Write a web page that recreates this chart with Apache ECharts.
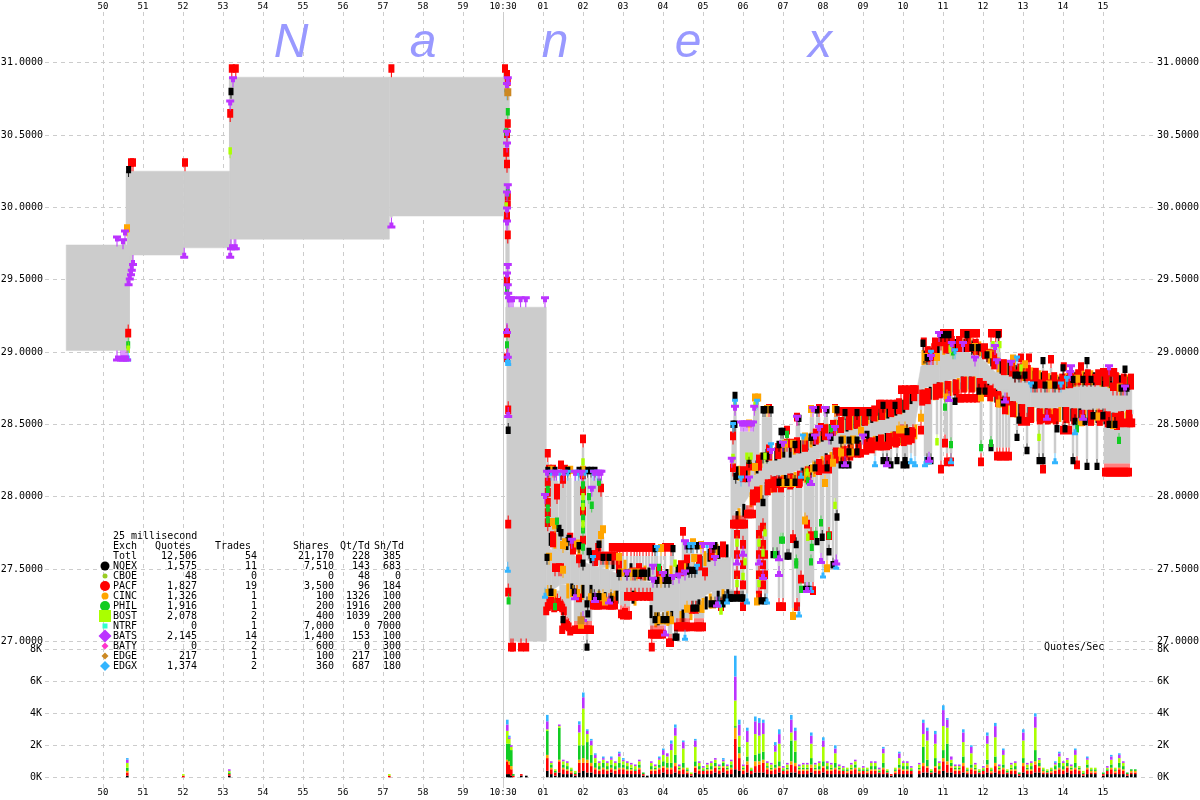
<!DOCTYPE html>
<html><head><meta charset="utf-8">
<style>html,body{margin:0;padding:0;background:#fff}#c{width:1200px;height:800px}</style>
<script src="https://cdn.jsdelivr.net/npm/echarts@6/dist/echarts.min.js"></script>
</head><body><div id="c"></div>
<script>
// ---- time is seconds relative to 10:30:00 ----
const bandT  =[-10.92,-9.4,-9.4,-7.98,-7.98,-6.83,-6.83,-2.84,-2.84,0.08,0.08,0.15,0.15,1.08,1.08,1.22,1.42,1.68,1.92,2.18,2.42,2.68,2.92,3.18,3.42,3.68,3.75,4.05,4.42,4.85,5.25,5.68,5.75,6,6.25,6.5,6.75,7.1,7.5,7.92,8.35,8.75,9.18,9.6,10,10.3,10.45,10.92,11.5,11.92,12.35,12.75,13.18,13.6,14,14.42,14.85,15.25,15.72];
const bandAsk=[29.74,29.74,30.25,30.25,30.25,30.25,30.9,30.9,30.9,30.9,30.9,30.9,29.31,29.31,27.66,27.63,27.63,27.62,27.56,27.53,27.51,27.49,27.46,27.44,27.42,27.41,27.4,27.4,27.44,27.48,27.56,27.58,28.11,28.1,28.11,28.22,28.25,28.27,28.31,28.37,28.44,28.46,28.51,28.54,28.58,28.67,28.9,28.97,29.01,28.97,28.85,28.83,28.79,28.76,28.74,28.77,28.77,28.75,28.74];
const bandBid=[29.01,29.01,29.67,29.67,29.72,29.72,29.78,29.78,29.94,29.94,29.31,29.31,27,27,27.3,27.35,27.39,27.4,27.39,27.39,27.35,27.34,27.35,27.35,27.34,27.28,27.19,27.21,27.21,27.28,27.35,27.36,27.89,27.94,28.05,28.08,28.14,28.15,28.2,28.27,28.34,28.37,28.41,28.44,28.46,28.5,28.74,28.79,28.83,28.82,28.74,28.65,28.62,28.61,28.62,28.61,28.6,28.58,28.6];

// ---- ask quotes by exchange: [time, price] ----
const askRed=[[-9.3,30.25],[-9.25,30.25],[-7.95,30.25],[-6.78,30.9],[-6.68,30.9],[-2.79,30.9],[-6.82,30.59],[.05,30.9],[.1,30.86],[.12,30.81],[.12,30.52],[.1,30.45],[.08,30.32],[.1,30.24],[.12,30.02],[.12,29.96],[.1,29.88],[.12,29.75],[.1,29.43],
[1.15,28.13],[1.25,28.13],[1.45,28.16],[1.55,28.13],[1.12,28.24],[2,28.34],[1.12,28.04],[1.12,27.97],[1.12,27.9],[1.12,27.83],[1.12,27.76],[1.35,28],[1.35,27.95],[1.5,28.06],[2,28.09],[2,27.98],[2,27.84],[2,27.64],[2.45,28],[1.68,27.66],[2.38,27.59],[1.9,27.51],
[2.45,27.53],[2.55,27.53],[2.6,27.53],[2.7,27.53],[2.75,27.53],[2.8,27.53],[1.3,27.45],[1.4,27.45],[1.45,27.45],
[2.72,27.59],[2.85,27.59],[2.92,27.59],[3,27.59],[3.1,27.59],[3.2,27.59],[3.28,27.59],[3.35,27.59],[3.42,27.59],[3.5,27.59],[3.58,27.59],[3.65,27.59],[3.73,27.59],[3.25,27.42],[4.05,27.59],[4.2,27.59],[4.5,27.7],[4.6,27.51],[5.05,27.42],[3.5,27.42],
[5.75,28.36],[5.75,28.14],[6.15,28.15],[6.65,28.55],[7.1,28.31],[7.2,28.31],[7.1,28.4],[7.35,28.49],[7.9,28.55],[7.95,28.42],[8.25,28.42],[8.3,28.55],
[8.4,28.53],[8.5,28.53],[8.6,28.53],[8.7,28.53],[8.8,28.53],[8.9,28.53],[9,28.53],[9.1,28.53],[9.2,28.53],[9.3,28.53],[9.4,28.58],[9.45,28.58],[9.55,28.58],[9.65,28.58],[9.75,28.58],[9.85,28.58],[9.95,28.68],[10.05,28.68],[10.15,28.68],[10.25,28.68],[10.32,28.68],
[10.52,29.01],[10.65,28.91],[10.75,28.91],[10.8,29.01],[10.95,29.01],[11,29.07],[11.1,29.07],[11.2,29.07],[11.5,29.07],[11.55,29.07],[11.65,29.07],[11.75,29.07],[11.85,29.07],[11.78,28.97],[11.9,28.97],[12.1,28.93],[12.25,28.93],[12.2,29.07],[12.32,29.07],[12.4,29.07],
[12.95,28.9],[13.15,28.9],[12.8,28.79],[12.95,28.79],[13.1,28.79],[13.25,28.72],[13.35,28.72],[13.45,28.72],[13.6,28.72],[13.75,28.72],[13.9,28.72],[13.7,28.89],[14.02,28.84],[14.45,28.84],[14.3,28.76],[14.4,28.76],[14.6,28.76],[14.8,28.76],[15,28.8],[15.1,28.8],[15.2,28.8],[15.28,28.8],[15.25,28.7],[15.35,28.7],[15.5,28.7]];
const askRedEdge=[[1.25,27.65],[1.75,27.6],[2.3,27.52],[2.9,27.47],[3.4,27.43],[3.9,27.41],[4.45,27.45],[4.9,27.49],[5.22,27.56],[5.5,27.58],[6,28.1],[6.4,28.18],[6.65,28.25],[6.88,28.26],[7.35,28.3],[7.55,28.31],[7.82,28.36],[8.05,28.39],[8.25,28.42],[8.45,28.44],[8.65,28.46],[8.85,28.47],[9.05,28.49],[9.28,28.52],[9.48,28.53],[9.7,28.55],[9.9,28.57],[10.08,28.6],[10.28,28.66],[10.62,28.93],[10.78,28.95],[11.08,28.99],[11.22,29],[11.4,29],[11.62,29],[11.82,28.98],[12.05,28.95],[12.28,28.88],[12.52,28.84],[12.72,28.83],[12.92,28.81],[13.12,28.8],[13.32,28.78],[13.55,28.76],[13.78,28.75],[13.98,28.74],[14.18,28.75],[14.38,28.77],[14.62,28.77],[14.88,28.77],[15.08,28.76],[15.32,28.75],[15.52,28.74],[15.7,28.74]];
const askBlack=[[-9.36,30.21],[-6.8,30.75],
[1.12,28.13],[1.3,28.13],[1.62,28.13],[1.9,28.13],[2.12,28.13],[2.2,28.13],[2.3,28.13],[1.4,27.73],[1.45,27.7],[1.65,27.66],[1.9,27.61],[2.4,27.62],[2.15,27.57],[2,27.49],[1.1,27.53],[2.5,27.53],[2.65,27.53],
[2.9,27.42],[3.1,27.42],[3.3,27.42],[3.45,27.42],[3.55,27.42],[3.8,27.59],[4.25,27.59],[3.85,27.37],[4.05,27.37],[4.15,27.37],[4.6,27.61],[4.7,27.61],[4.85,27.61],[5.25,27.61],[5.3,27.61],[4.65,27.44],[4.72,27.44],[4.8,27.44],
[5.8,28.65],[5.75,28.45],[5.8,28.45],[5.82,28.09],[6.5,28.55],[6.55,28.55],[6.7,28.55],[6.15,28.2],[6.5,28.23],[6.6,28.23],[6.95,28.4],[7,28.4],[6.9,28.31],[7.3,28.31],[7.4,28.49],[7.7,28.36],[7.85,28.55],[8.1,28.55],[8.2,28.36],[8.35,28.55],
[8.55,28.53],[8.85,28.53],[9.15,28.53],[9.5,28.58],[9.8,28.58],[8.45,28.34],[8.65,28.34],[8.85,28.34],[9.1,28.38],
[10.5,29.01],[10.6,28.91],[10.95,29.07],[11.05,29.07],[11.15,29.07],[11.6,29.07],[11.72,28.98],[11.88,28.98],[12.1,28.93],[12.38,29.07],[12.8,28.79],[12.9,28.79],[13.05,28.79],[13.3,28.72],[13.55,28.72],[13.8,28.72],[13.5,28.89],[14,28.84],[14.6,28.89],[14.25,28.76],[14.5,28.76],[14.7,28.76],[15.55,28.83],[15.45,28.7],[15.6,28.7]];
const askBlackEdge=[[1.18,27.66],[1.6,27.63],[2.2,27.54],[2.75,27.5],[3.2,27.45],[3.65,27.42],[4.1,27.41],[4.35,27.44],[4.62,27.46],[4.95,27.5],[5.15,27.55],[5.4,27.57],[5.6,27.58],[5.85,28.12],[6.08,28.1],[6.35,28.16],[6.6,28.24],[6.82,28.25],[7.02,28.27],[7.18,28.27],[7.42,28.3],[7.6,28.32],[7.78,28.35],[7.98,28.38],[8.18,28.41],[8.4,28.44],[8.6,28.45],[8.8,28.47],[9,28.49],[9.22,28.51],[9.42,28.53],[9.62,28.54],[9.82,28.56],[10.02,28.58],[10.2,28.64],[10.55,28.92],[10.72,28.94],[10.88,28.97],[11.12,28.99],[11.32,29],[11.55,29],[11.75,28.99],[12,28.96],[12.22,28.9],[12.45,28.85],[12.65,28.84],[12.85,28.82],[13.05,28.8],[13.28,28.78],[13.48,28.77],[13.72,28.75],[13.92,28.74],[14.12,28.75],[14.32,28.77],[14.55,28.77],[14.78,28.77],[15,28.76],[15.2,28.75],[15.42,28.75],[15.65,28.74]];
const askOrange=[[-9.4,29.8],
[1.2,28.13],[1.68,28.13],[2,28.13],[1.25,27.77],[1.3,27.75],[1.5,27.61],[1.55,27.63],[1.85,27.62],[2.45,27.68],[2.5,27.72],[2.9,27.53],[1.15,27.53],[1.5,27.44],
[2.95,27.42],[3.2,27.42],[3.35,27.42],[3.95,27.59],[3.95,27.37],[4.75,27.63],[4.95,27.61],[4.78,27.52],
[6.3,28.63],[6.38,28.63],[6.15,28.45],[6.6,28.55],[6.3,28.15],[7.05,28.31],[7.25,28.31],[7.55,28.36],[7.7,28.55],[8.3,28.55],[8.5,28.34],[8.75,28.34],[8.95,28.4],
[10.55,28.91],[10.85,28.91],[11.8,28.98],[12.15,28.93],[12.75,28.9],[13.05,28.86],[13.65,28.72],[14.35,28.76],[15.42,28.7]];
const askOrangeEdge=[[1.3,27.64],[1.9,27.57],[2.6,27.5],[3.05,27.46],[3.55,27.42],[4.2,27.42],[4.55,27.46],[5.05,27.52],[5.35,27.57],[5.9,28.11],[6.15,28.1],[6.45,28.2],[6.7,28.25],[6.95,28.27],[7.28,28.29],[7.5,28.31],[7.7,28.34],[7.9,28.37],[8.1,28.4],[8.32,28.43],[8.5,28.45],[8.72,28.46],[8.92,28.48],[9.12,28.5],[9.35,28.52],[9.55,28.54],[9.75,28.55],[9.95,28.57],[10.12,28.62],[10.5,28.91],[10.65,28.93],[10.82,28.95],[11.02,28.98],[11.25,28.99],[11.45,29],[11.68,29],[11.92,28.97],[12.15,28.92],[12.38,28.86],[12.58,28.84],[12.78,28.83],[13,28.8],[13.22,28.79],[13.42,28.77],[13.65,28.75],[13.85,28.74],[14.08,28.75],[14.28,28.76],[14.5,28.77],[14.72,28.77],[14.95,28.76],[15.15,28.75],[15.38,28.75],[15.6,28.74]];
const askGreen=[[.12,30.61],[.08,30.47],[.12,30.05],[.1,29.38],[1.12,28],[1.12,27.87],[1.12,27.79],[1.35,27.78],[2,28.03],[2,27.9],[2,27.8],[2,27.72],[2,27.6],[2.15,27.95],[2.22,27.89],[2.4,28.05],[3.9,27.46],[7.1,28.38],[8.2,28.42],[11.2,29],[11.25,28.95]];
const askLime=[[-6.82,30.34],[.08,29.96],[2,28.19],[2,27.95],[2,27.88],[2,27.76],[4.3,27.49],[5.8,28.58],[5.75,28.22],[6.1,28.23],[6.2,28.23],[6.3,28.58],[6.55,28.23],[11.18,28.97],[12.25,29],[12.42,29],[12.95,28.84]];
const askBlue=[[.1,30.74],[1.2,28.11],[1.42,28.11],[1.62,28.11],[1.82,28.11],[1.88,28.11],[2.05,28.11],[2.25,28.11],[2.35,28.11],[2.25,27.52],[3.85,27.59],[4.65,27.61],[4.75,27.61],[5.1,27.61],[4.85,27.46],[5.8,28.6],[5.75,28.44],[5.95,28.07],[6.35,28.6],[6.7,28.3],[7.5,28.36],[7.9,28.42],[12.85,28.9],[13.2,28.72],[13.95,28.72],[10.7,28.94],[11.3,28.95],[14.1,28.76]];
const askPurple=[[-9.45,29.77],[-9.65,29.73],[-9.5,29.71],[-6.75,30.83],[-6.82,30.67],[.12,30.83],[.1,30.79],[.1,30.46],[.1,30.38],[.12,30.09],[.1,30.04],[.1,29.93],[.1,29.84],[.12,29.54],[.1,29.48],[.12,29.4],[.13,29.34],[.15,29.31],[.2,29.31],[.25,29.31],[.44,29.31],[.57,29.31],[1.05,29.31],
[1.1,28.11],[1.28,28.11],[1.34,28.11],[1.52,28.11],[1.8,28.11],[1.96,28.11],[2.28,28.11],[2.38,28.11],[2.42,28.11],[2.46,28.11],[1.05,27.95],[1.72,27.64],[2.22,28],[3.1,27.42],[3.75,27.46],[4,27.41],[3.75,27.37],[4.25,27.39],[4.55,27.63],[5.3,27.52],[4.4,27.4],[4.55,27.42],[5,27.61],[5.2,27.61],
[5.8,28.56],[5.72,28.2],[5.95,28.45],[6,28.45],[6.05,28.45],[6.1,28.45],[6.2,28.45],[6.25,28.45],[6.28,28.56],[6.15,28.07],[6.7,28.26],[7,28.31],[7.35,28.49],[7.8,28.36],[7.75,28.55],[8.05,28.55],[7.9,28.42],[8.3,28.42],[8.15,28.36],[9,28.36],
[10.9,29.07],[10.7,28.91],[11.22,29],[11.5,29],[11.8,28.9],[12.3,28.98],[12.35,28.88],[12.7,28.87],[14.2,28.84],[14.18,28.8],[15.15,28.84],[15.55,28.7]];
const askBrown=[[.12,30.74]];

// ---- bid quotes by exchange: [time, price] ----
const bidRed=[[.1,29.19],[.1,29.02],[.13,28.66],[.13,27.87],[.13,27.4],[.2,27.02],[.25,27.02],[.45,27.02],[.58,27.02],[-9.37,29.19],
[1.08,27.27],[1.12,27.3],[1.16,27.33],[1.2,27.35],[1.24,27.31],[1.28,27.29],[1.32,27.31],[1.36,27.33],[1.4,27.3],[1.44,27.31],[1.48,27.29],[1.52,27.27],
[1.48,27.14],[1.52,27.17],[1.56,27.18],[1.6,27.17],[1.64,27.16],[1.68,27.13],[1.8,27.14],[1.85,27.14],[1.9,27.14],[2,27.14],[2.05,27.14],[2.1,27.14],[2.15,27.14],[2.2,27.14],[1.85,27.39],[1.9,27.36],
[2.25,27.31],[2.3,27.31],[2.35,27.31],[2.4,27.31],[2.45,27.31],[2.6,27.31],[2.65,27.31],[2.7,27.31],[2.75,27.31],[2.8,27.31],[2.95,27.25],[3,27.24],[3.05,27.26],[3.1,27.24],[3.15,27.24],
[3.1,27.37],[3.2,27.37],[3.3,27.37],[3.4,27.37],[3.5,27.37],[3.6,27.37],[3.68,27.37],[3.7,27.11],[3.75,27.11],[3.8,27.11],[3.85,27.11],[3.9,27.11],[3.95,27.11],[4,27.11],[3.72,27.02],[4.15,27.05],[4.2,27.05],
[4.35,27.16],[4.4,27.16],[4.45,27.16],[4.5,27.16],[4.55,27.16],[4.6,27.16],[4.65,27.16],[4.8,27.16],[4.85,27.16],[4.9,27.16],[4.95,27.16],[5,27.16],[4.72,27.28],[4.82,27.28],[5.45,27.3],
[5.75,27.87],[5.8,27.87],[5.85,27.87],[5.9,27.87],[5.95,27.87],[6,27.87],[6.05,27.87],[6.1,27.94],[6.15,27.94],[6.2,27.94],[6.25,27.94],
[5.85,27.8],[5.85,27.66],[5.85,27.52],[5.85,27.38],[6,27.73],[6,27.59],[6,27.45],[6,27.3],[6.4,27.8],[6.4,27.66],[6.4,27.52],[6.4,27.38],[6.5,27.85],[6.5,27.73],[6.5,27.59],[6.5,27.45],[6.55,27.66],[6.55,27.52],
[6.9,27.3],[7,27.3],[7.35,27.3],[7.25,27.77],[7.45,27.49],[7.6,27.87],[7.7,27.79],[8.15,27.79],[7.75,27.41],
[6.7,28.15],[6.85,28.15],[7,28.15],[7.2,28.15],[7.4,28.15],[7.85,28.25],[8,28.25],[8.15,28.25],[8.55,28.36],[8.75,28.36],[8.95,28.36],[9.2,28.41],[9.3,28.41],[9.4,28.41],[9.5,28.41],[9.6,28.41],[9.75,28.44],[9.85,28.44],[10,28.5],[10.1,28.5],[10.25,28.5],[10.45,28.52],[9.95,28.5],
[11.05,28.43],[11.1,28.3],[11.2,28.3],[10.95,28.25],[11.4,28.74],[11.45,28.74],[11.55,28.74],[11.65,28.74],[11.75,28.74],[11.85,28.74],[12.1,28.78],[12.25,28.78],[11.95,28.3],
[12.35,28.34],[12.42,28.34],[12.5,28.34],[12.58,28.34],[12.65,28.34],[12.45,28.72],[12.6,28.72],[12.95,28.58],[13.1,28.58],[13.45,28.6],[13.55,28.6],[13.65,28.6],[13.7,28.6],[13.5,28.25],[14,28.52],[14.15,28.52],[14.35,28.28],
[14.9,28.61],[15.05,28.61],[15.05,28.23],[15.1,28.23],[15.15,28.23],[15.2,28.23],[15.25,28.23],[15.3,28.23],[15.35,28.23],[15.4,28.23],[15.45,28.23],[15.5,28.23],[15.55,28.23],[15.6,28.23],[15.65,28.23],[15.35,28.55],[15.6,28.57],[15.68,28.57],[15.73,28.57]];
const bidRedEdge=[[6.25,28.05],[6.35,28.07],[6.62,28.12],[6.78,28.14],[6.95,28.14],[7.18,28.16],[7.42,28.18],[7.62,28.21],[7.9,28.26],[8.12,28.29],[8.32,28.34],[8.52,28.35],[8.68,28.36],[8.88,28.38],[9.08,28.4],[9.22,28.41],[9.45,28.43],[9.65,28.44],[9.82,28.45],[10.02,28.46],[10.15,28.47],[10.22,28.48],[10.48,28.74],[10.62,28.75],[10.82,28.78],[10.92,28.79],[11.12,28.8],[11.32,28.81],[11.52,28.83],[11.72,28.83],[11.92,28.82],[12.02,28.8],[12.18,28.77],[12.38,28.73],[12.55,28.68],[12.75,28.66],[12.98,28.64],[13.2,28.62],[13.42,28.61],[13.62,28.61],[13.82,28.61],[14.08,28.62],[14.28,28.61],[14.48,28.6],[14.7,28.6],[14.92,28.6],[15.12,28.59],[15.3,28.58],[15.45,28.59],[15.65,28.6]];
const bidBlack=[[.13,28.51],[1.2,27.39],[1.5,27.2],[1.78,27.39],[2.1,27.31],[2.12,27.24],[2.1,27.01],[2.28,27.36],[2.4,27.36],[2.7,27.34],[3.8,27.2],[4,27.2],[4.1,27.2],[4.3,27.08],[4.35,27.08],[4.75,27.28],[4.85,27.28],[5.2,27.31],[5.3,27.31],[5.45,27.31],[5.5,27.31],[5.55,27.35],[5.65,27.35],
[5.85,27.35],[5.95,27.35],[6,27.35],[5.7,27.35],[5.75,27.35],[6.45,27.33],[6.55,27.33],[6.5,28.01],[6.75,27.65],[6.85,27.65],[7.1,27.64],[7.15,27.64],[7.33,27.72],[7.85,27.74],[7.98,27.77],[8.15,27.67],[8.25,27.58],[8.35,27.91],[7.55,27.41],[7.65,27.41],
[6.9,28.15],[7.1,28.15],[7.3,28.15],[7.8,28.25],[8.1,28.25],[8.45,28.27],[8.55,28.27],[8.65,28.27],[8.65,28.36],[8.85,28.36],[9.7,28.27],[10,28.27],[10.1,28.27],[9.5,28.3],[9.6,28.3],[9.85,28.3],[10.05,28.3],[10.1,28.5],
[10.6,28.3],[10.7,28.3],[11.3,28.71],[11.9,28.78],[12.05,28.78],[12.2,28.39],[12.5,28.7],[12.85,28.46],[13.1,28.37],[12.9,28.58],[13.4,28.3],[13.5,28.3],[13.85,28.52],[14.05,28.52],[14.25,28.3],[14.6,28.26],[14.85,28.26],[14.3,28.57],[14.55,28.57],[14.75,28.61],[15,28.61],[15.15,28.55],[15.3,28.55]];
const bidBlackEdge=[[1.18,27.33],[1.72,27.4],[2,27.39],[2.2,27.39],[2.55,27.34],[2.85,27.35],[3.25,27.35],[3.7,27.25],[3.88,27.2],[4.22,27.21],[4.5,27.22],[4.9,27.29],[5.08,27.31],[5.38,27.35],[5.62,27.36],[5.85,27.9],[6.02,27.95],[6.3,28.05],[6.58,28.1],[6.8,28.14],[7.05,28.15],[7.22,28.16],[7.48,28.2],[7.68,28.22],[7.88,28.26],[8.08,28.3],[8.28,28.33],[8.5,28.35],[8.72,28.37],[8.92,28.39],[9.12,28.41],[9.35,28.42],[9.58,28.44],[9.78,28.45],[9.98,28.46],[10.18,28.48],[10.5,28.74],[10.68,28.76],[10.88,28.79],[11.08,28.8],[11.28,28.81],[11.48,28.83],[11.68,28.83],[11.88,28.82],[12.12,28.78],[12.32,28.74],[12.52,28.69],[12.72,28.66],[12.92,28.64],[13.15,28.62],[13.38,28.61],[13.58,28.61],[13.8,28.61],[14.02,28.62],[14.22,28.61],[14.42,28.61],[14.65,28.6],[14.85,28.6],[15.05,28.59],[15.25,28.58],[15.48,28.59],[15.68,28.6]];
const bidOrange=[[1.12,27.39],[1.2,27.39],[1.75,27.39],[1.85,27.39],[1.95,27.17],[2.2,27.36],[2.5,27.36],[2.7,27.36],[2.55,27.33],[3.9,27.2],[4,27.2],[4.1,27.2],[4.2,27.2],[4.6,27.28],[4.95,27.28],[5.25,27.31],[6.35,27.33],[7.25,27.23],[7.55,27.89],[8.1,27.56],[7,28.15],[7.15,28.15],[7.25,28.15],[7.6,28.2],[7.75,28.25],[8.05,28.15],[8.25,28.29],[8.45,28.36],[8.7,28.36],[9.9,28.52],[10.05,28.52],[10.45,28.6],[11.1,28.74],[11.95,28.74],[12.4,28.7],[14.45,28.57],[14.85,28.61],[15.25,28.55]];
const bidOrangeEdge=[[1.3,27.36],[1.62,27.4],[1.98,27.39],[2.4,27.35],[2.8,27.35],[3.3,27.35],[3.82,27.2],[4.12,27.21],[4.45,27.21],[4.7,27.25],[5,27.3],[5.18,27.33],[5.5,27.36],[5.9,27.92],[6.2,28.03],[6.45,28.08],[6.72,28.13],[6.98,28.15],[7.3,28.17],[7.55,28.2],[7.78,28.24],[7.98,28.28],[8.2,28.31],[8.42,28.34],[8.65,28.36],[8.85,28.38],[9.05,28.4],[9.28,28.42],[9.5,28.43],[9.72,28.45],[9.92,28.46],[10.12,28.47],[10.32,28.5],[10.58,28.75],[10.78,28.77],[10.98,28.79],[11.18,28.8],[11.38,28.82],[11.58,28.83],[11.78,28.83],[12,28.8],[12.22,28.76],[12.42,28.72],[12.62,28.67],[12.82,28.65],[13.02,28.63],[13.25,28.62],[13.48,28.61],[13.72,28.61],[13.92,28.62],[14.12,28.61],[14.32,28.61],[14.55,28.6],[14.75,28.6],[14.95,28.6],[15.15,28.58],[15.38,28.58],[15.58,28.59]];
const bidGreen=[[.1,29.1],[.14,27.33],[-9.37,29.1],[1.3,27.29],[6.8,27.65],[6.95,27.75],[7,27.75],[7.33,27.6],[7.33,27.58],[7.45,27.41],[7.72,27.7],[7.7,27.6],[7.82,27.79],[7.95,27.87],[8.15,27.78],[7.62,28.16],[11.05,28.67],[11.2,28.41],[11.95,28.39],[12.2,28.42],[14.35,28.52],[15.4,28.44]];
const bidLime=[[-9.37,29.07],[5.45,27.26],[6.05,27.6],[6,27.5],[5.85,27.73],[5.85,27.45],[6.4,27.73],[6.4,27.45],[6.5,27.66],[6.55,27.8],[7.62,27.77],[8.3,27.99],[7.6,28.22],[10.85,28.43],[13.4,28.46]];
const bidBlue=[[-9.37,29.01],[.12,29],[.13,28.98],[.12,27.55],[1.05,27.37],[4.55,27.08],[5.4,27.31],[5.6,27.33],[6.1,27.33],[6.6,27.33],[7.4,27.24],[7.45,28.2],[7.7,27.41],[8,27.51],[8.33,27.57],[9.3,28.28],[10.3,28.28],[10.55,28.28],[10.2,28.3],[10.65,28.3],[11.2,28.3],[13.8,28.3],[14.3,28.5]];
const bidPurple=[[-9.65,29.01],[-9.55,29.01],[-9.5,29.01],[-9.45,29.01],[-9.4,29.01],[-9.25,29.67],[-9.28,29.63],[-9.3,29.6],[-9.33,29.57],[-9.36,29.53],[-7.97,29.72],[-6.8,29.78],[-6.72,29.78],[-6.68,29.78],[-6.82,29.72],[-2.79,29.93],[.1,29.2],[.12,29.03],[.13,28.62],[1.8,27.36],[2,27.21],[2.3,27.34],[2.65,27.33],[4.05,27.11],[5.35,27.31],[5.85,27.6],[6,27.66],[6.4,27.6],[6.5,27.5],[6.9,27.52],[6.9,27.63],[7.6,27.41],[7.95,27.61],[8.33,27.6],[7.7,28.15],[8.55,28.28],[9.6,28.28],[10.65,28.31],[11.15,28.73],[12.55,28.72],[13.6,28.6],[14.5,28.6]];
const bidBrown=[[1.95,27.2]];

// ---- quotes per second, in hundreds, by exchange; time column first ----
const volT=[-9.4,-8,-6.85,-2.85,.1,.15,.2,.25,.45,.58,
1.1,1.2,1.3,1.4,1.5,1.6,1.7,1.8,1.9,2,2.1,2.2,2.3,2.4,2.5,2.6,2.7,2.8,2.9,3,3.1,3.2,3.3,3.4,3.5,3.6,3.7,3.8,3.9,4,4.1,4.2,4.3,4.4,4.5,4.6,4.7,4.8,4.9,5,5.1,5.2,5.3,5.4,5.5,5.6,5.7,5.8,5.9,6,6.1,6.2,6.3,6.4,6.5,6.6,6.7,6.8,6.9,7,7.1,7.2,7.3,7.4,7.5,7.6,7.7,7.8,7.9,8,8.1,8.2,8.3,8.4,8.5,8.6,8.7,8.8,8.9,9,9.1,9.2,9.3,9.4,9.5,9.6,9.7,9.8,9.9,10,10.1,10.2,10.3,10.4,10.5,10.6,10.7,10.8,10.9,11,11.1,11.2,11.3,11.4,11.5,11.6,11.7,11.8,11.9,12,12.1,12.2,12.3,12.4,12.5,12.6,12.7,12.8,12.9,13,13.1,13.2,13.3,13.4,13.5,13.6,13.7,13.8,13.9,14,14.1,14.2,14.3,14.4,14.5,14.6,14.7,14.8,14.9,15,15.1,15.2,15.3,15.4,15.5,15.6,15.7,15.8];
const volBlack=[1,0,1,0,2,2,1,0,1,1, 4,2,1,3,2,2,2,1,3,4, 3,3,2,2,2,2,3,2,2,2, 2,2,2,2,1,1,2,2,2,3, 2,2,3,2,2,2,1,3,2,2, 2,2,3,2,3,2,2,5,4,2, 3,2,3,3,3,2,2,2,3,2, 2,3,3,2,2,2,3,2,2,3, 2,2,2,2,2,2,2,2,2,2, 2,2,2,2,2,2,1,2,2,2, 2,2,0,2,3,3,2,3,2,4, 3,3,2,2,3,2,2,2,2,2, 3,2,3,2,2,2,2,2,1,3, 2,2,3,3,2,2,2,2,2,2, 3,2,2,2,1,2,2,2,0,1, 2,2,2,2,2,1,2,2];
const volRed=[2,1,1,1,8,6,4,1,1,0, 8,3,2,7,3,2,1,1,6,5, 6,4,3,2,3,2,2,2,3,3, 2,2,2,3,1,0,2,2,3,3, 3,3,4,2,3,1,1,3,2,2, 2,2,3,2,3,2,3,19,8,2, 5,2,4,5,6,3,2,3,3,2, 2,5,4,2,2,2,3,2,2,3, 2,2,3,2,2,1,2,3,1,2, 1,2,2,1,3,1,1,1,3,2, 2,2,0,2,4,3,1,3,2,6, 5,3,2,2,4,1,3,2,1,2, 3,1,4,2,3,1,2,2,1,4, 2,2,5,3,1,1,1,2,3,2, 3,2,3,2,1,3,1,1,0,1, 2,3,1,3,2,1,1,1];
const volOrange=[1,0,0,0,1,2,2,0,0,0, 2,1,0,1,1,1,1,0,2,3, 2,2,1,1,1,1,1,1,1,1, 1,1,0,1,0,0,1,1,1,1, 1,1,2,1,1,1,0,1,1,0, 1,1,1,1,1,1,1,7,3,1, 2,0,3,2,2,1,1,1,1,0, 1,2,2,1,1,1,2,1,1,1, 1,1,1,1,0,1,1,1,1,0, 1,1,1,0,1,0,0,1,1,1, 1,0,0,1,2,1,0,1,1,2, 2,1,1,1,2,1,1,1,0,0, 2,1,2,1,1,0,1,1,0,2, 1,1,2,1,1,0,1,1,1,1, 1,1,1,1,0,1,1,1,0,0, 0,1,1,1,1,0,1,1];
const volGreen=[2,0,1,0,10,11,10,1,0,0, 15,2,1,20,2,2,1,1,9,8, 11,5,3,2,3,2,2,2,3,2, 2,1,1,2,1,0,2,1,2,3, 3,3,5,1,3,1,0,3,2,1, 1,2,2,1,2,1,2,1,4,1, 3,1,4,5,5,1,1,2,3,1, 1,13,7,1,1,1,4,1,2,3, 2,1,3,1,1,1,1,2,1,1, 1,2,2,1,3,1,0,1,2,2, 2,1,0,1,10,4,1,5,2,5, 11,2,1,1,4,1,2,1,1,1, 3,1,4,1,2,1,1,2,1,3, 1,2,7,2,1,1,1,2,3,2, 2,1,3,1,1,2,1,1,0,1, 1,2,1,3,2,1,1,1];
const volLime=[3,1,1,1,8,3,2,0,0,0, 1,1,1,1,2,2,1,1,8,23, 5,6,3,2,2,2,3,2,4,2, 2,2,2,2,0,0,2,1,3,4, 4,8,12,1,9,1,1,9,2,1, 2,2,2,1,1,1,2,16,7,1, 9,1,13,11,11,2,2,8,11,1, 2,5,7,1,2,2,9,2,2,9, 2,2,6,1,1,1,2,2,1,1, 1,2,2,1,6,1,0,1,4,2, 2,1,0,2,8,12,1,9,2,15, 10,2,1,1,9,1,7,2,1,1, 10,1,12,1,6,1,2,2,0,11, 2,2,14,2,1,1,1,1,4,2, 2,1,5,1,1,3,1,1,0,0, 1,3,1,3,2,0,0,0];
const volPurple=[2,0,1,0,4,1,1,0,0,0, 5,1,0,1,1,1,0,0,5,7, 2,3,2,1,1,1,1,1,2,1, 1,1,1,1,0,0,1,1,1,3, 2,4,5,1,4,0,0,4,1,1, 1,1,1,1,1,1,1,15,7,1, 7,0,8,8,7,1,1,4,6,1, 1,8,6,1,1,1,5,1,1,4, 1,1,3,1,1,0,1,1,0,1, 0,1,1,1,3,0,0,0,3,1, 1,1,0,1,7,6,0,6,1,10, 5,2,1,1,6,0,4,1,0,1, 5,0,7,1,3,0,1,1,0,5, 1,1,7,1,0,0,0,1,2,1, 1,1,3,0,0,1,0,0,0,0, 1,2,0,2,1,0,0,0];
const volBlue=[1,0,0,0,3,1,0,0,0,0, 4,0,0,0,0,0,0,0,2,3, 1,1,1,0,1,0,1,0,1,1, 0,0,0,0,0,0,0,0,1,1, 0,2,2,0,1,0,0,1,0,0, 0,0,0,0,1,0,0,13,3,0, 2,0,3,3,2,0,0,2,3,0, 0,3,2,0,0,0,2,0,0,2, 0,0,2,0,0,0,0,0,0,0, 0,0,0,0,1,0,0,0,1,0, 0,0,0,0,2,2,0,2,0,3, 1,0,0,0,2,0,1,0,0,0, 2,0,2,0,1,0,0,0,0,2, 0,0,2,0,0,0,0,1,1,0, 0,0,1,0,0,1,0,0,0,0, 0,1,0,1,0,0,0,0];

// ---- axis ticks ----
const secondTicks=[-10,-9,-8,-7,-6,-5,-4,-3,-2,-1,0,1,2,3,4,5,6,7,8,9,10,11,12,13,14,15];
const priceTicks=[27,27.5,28,28.5,29,29.5,30,30.5,31];
const rateTicks=[0,2000,4000,6000,8000];

// ---- summary table ----
const tableTitle='25 millisecond';
const exchNames =['Totl','NQEX','CBOE','PACF','CINC','PHIL','BOST','NTRF','BATS','BATY','EDGE','EDGX'];
const exchQuotes=['12,506','1,575','48','1,827','1,326','1,916','2,078','0','2,145','0','217','1,374'];
const exchTrades=['54','11','0','19','1','1','2','1','14','2','1','2'];
const exchShares=['21,170','7,510','0','3,500','100','200','400','7,000','1,400','600','100','360'];
const exchQtTd  =['228','143','48','96','1326','1916','1039','0','153','0','217','687'];
const exchShTd  =['385','683','0','184','100','200','200','7000','100','300','100','180'];
const brand=['N','a','n','e','x'];

const C={black:'#000000',red:'#ff0000',orange:'#ffa500',green:'#11cc22',lime:'#aaff00',blue:'#33b5ff',purple:'#bb33ff',brown:'#cc8822',grey:'#cccccc'};
const mono='"DejaVu Sans Mono","Liberation Mono",monospace';

const chart=echarts.init(document.getElementById('c'),null,{renderer:'canvas'});

function bandIndex(t){let k=0;for(let i=0;i<bandT.length;i++){if(bandT[i]<=t)k=i;}return k;}
const askSets=[askRed,askRedEdge,askBlack,askBlackEdge,askOrange,askOrangeEdge,askGreen,askLime,askBlue,askPurple,askBrown];
const bidSets=[bidRed,bidRedEdge,bidBlack,bidBlackEdge,bidOrange,bidOrangeEdge,bidGreen,bidLime,bidBlue,bidPurple,bidBrown];
const spikeData=[];
askSets.forEach(s=>s.forEach(d=>{const k=bandIndex(d[0]);spikeData.push([d[0],d[1],bandAsk[k]]);}));
bidSets.forEach(s=>s.forEach(d=>{const k=bandIndex(d[0]);spikeData.push([d[0],d[1],bandBid[k]]);}));

const bandRows=[];
for(let i=0;i<bandT.length-1;i++){if(bandT[i+1]>bandT[i])bandRows.push([bandT[i],bandT[i+1],bandAsk[i],bandAsk[i+1],bandBid[i],bandBid[i+1]]);}

const bl={ask:'path://M0 0H6V8H3.5V12H2.5V8H0Z',bid:'path://M2.5 0H3.5V4H6V12H0V4H2.5Z'};
const st={ask:'path://M0 0H4V18H0Z',bid:'path://M0 0H4V18H0Z'};
const ta={ask:'path://M0 0H8V3H6V6H4.5V11H3.5V6H2V3H0Z',bid:'path://M3.5 0H4.5V5H6V8H8V11H0V8H2V5H3.5Z'};
function quotes(name,data,side,shape,w,h,color){
  return {name,type:'scatter',xAxisIndex:0,yAxisIndex:0,data,symbol:shape[side],symbolSize:[w,h],
    symbolOffset:[0,side==='ask'?-h/2:h/2],itemStyle:{color,opacity:1},silent:true,z:5,animation:false,large:false,progressive:0};
}
const running=volT.map(()=>0);
function bars(name,arr,color){
  const rows=volT.map((t,i)=>{const lo=running[i];running[i]+=arr[i]*100;return [t,lo,running[i]];});
  return {name,type:'custom',xAxisIndex:1,yAxisIndex:2,silent:true,animation:false,z:4,data:rows,encode:{x:0,y:[1,2]},
    renderItem:(p,api)=>{
      const a=api.coord([api.value(0),api.value(1)]),b=api.coord([api.value(0),api.value(2)]);
      if(Math.abs(a[1]-b[1])<0.01)return null;
      return {type:'rect',shape:{x:Math.round(a[0])-1,y:b[1],width:2.6,height:a[1]-b[1]},style:{fill:color}};
    }};
}
const vline={silent:true,symbol:'none',animation:false,label:{show:false},lineStyle:{color:C.grey,type:'solid',width:1},data:[{xAxis:0}]};

const xBase={type:'value',min:-11.45,max:16.3,axisLine:{show:false},
  axisTick:{show:false,customValues:secondTicks},
  splitLine:{show:true,lineStyle:{color:C.grey,type:[4,4],width:1}}};
const xFmt=v=>v===0?'10:30':(v<0?String(60+v):String(v).padStart(2,'0'));
const yBaseLine={show:true,lineStyle:{color:C.grey,type:[4,4],width:1}};

const yMinP=26.9537,yMaxP=31.3505,yMinV=-669,yMaxV=8081;

const option={
  animation:false,backgroundColor:'#fff',
  grid:[{left:45,right:45,top:12,height:636,outerBoundsMode:'none'},{left:45,right:45,top:648,height:140,outerBoundsMode:'none'}],
  xAxis:[
    Object.assign({},xBase,{gridIndex:0,position:'top',axisLabel:{margin:1,fontFamily:mono,fontSize:9,color:'#000',customValues:secondTicks,formatter:xFmt}}),
    Object.assign({},xBase,{gridIndex:1,position:'bottom',axisLabel:{margin:0,fontFamily:mono,fontSize:9,color:'#000',customValues:secondTicks,formatter:xFmt}})
  ],
  yAxis:[
    {type:'value',gridIndex:0,position:'left',min:yMinP,max:yMaxP,axisLine:{show:false},axisTick:{show:false,customValues:priceTicks},splitLine:yBaseLine,
     axisLabel:{margin:2,fontFamily:mono,fontSize:10,color:'#000',customValues:priceTicks,formatter:v=>v.toFixed(4)}},
    {type:'value',gridIndex:0,position:'right',min:yMinP,max:yMaxP,axisLine:{show:false},axisTick:{show:false,customValues:priceTicks},splitLine:{show:false},
     axisLabel:{margin:2,fontFamily:mono,fontSize:10,color:'#000',customValues:priceTicks,formatter:v=>v.toFixed(4)}},
    {type:'value',gridIndex:1,position:'left',min:yMinV,max:yMaxV,axisLine:{show:false},axisTick:{show:false,customValues:rateTicks},splitLine:yBaseLine,
     axisLabel:{margin:3,fontFamily:mono,fontSize:10,color:'#000',customValues:rateTicks,formatter:v=>(v/1000)+'K'}},
    {type:'value',gridIndex:1,position:'right',min:yMinV,max:yMaxV,axisLine:{show:false},axisTick:{show:false,customValues:rateTicks},splitLine:{show:false},
     axisLabel:{margin:2,fontFamily:mono,fontSize:10,color:'#000',customValues:rateTicks,formatter:v=>(v/1000)+'K'}}
  ],
  series:[
    {name:'spread',type:'custom',xAxisIndex:0,yAxisIndex:0,z:2,silent:true,animation:false,
     data:bandRows,encode:{x:[0,1],y:[2,3,4,5]},
     renderItem:(p,api)=>{
       const a=api.coord([api.value(0),api.value(2)]),b=api.coord([api.value(1),api.value(3)]),
             c=api.coord([api.value(1),api.value(5)]),d=api.coord([api.value(0),api.value(4)]);
       return {type:'polygon',shape:{points:[a,b,c,d]},style:{fill:C.grey,stroke:C.grey,lineWidth:0.5}};
     }},
    {name:'spikes',type:'custom',xAxisIndex:0,yAxisIndex:0,z:3,silent:true,animation:false,
     data:spikeData,encode:{x:0,y:[1,2]},
     renderItem:(p,api)=>{
       const a=api.coord([api.value(0),api.value(1)]),b=api.coord([api.value(0),api.value(2)]);
       return {type:'line',shape:{x1:a[0],y1:a[1],x2:b[0],y2:b[1]},style:{stroke:C.grey,lineWidth:2.5}};
     },
     markLine:vline},
    quotes('askOrangeEdge',askOrangeEdge,'ask',st,3,15,C.orange),
    quotes('bidOrangeEdge',bidOrangeEdge,'bid',st,3,15,C.orange),
    quotes('askBlackEdge',askBlackEdge,'ask',st,3,13,C.black),
    quotes('bidBlackEdge',bidBlackEdge,'bid',st,3,13,C.black),
    quotes('askRedEdge',askRedEdge,'ask',st,6,16,C.red),
    quotes('bidRedEdge',bidRedEdge,'bid',st,6,16,C.red),
    quotes('askRed',askRed,'ask',bl,6,13,C.red),
    quotes('bidRed',bidRed,'bid',bl,6,13,C.red),
    quotes('askOrange',askOrange,'ask',bl,6,12,C.orange),
    quotes('bidOrange',bidOrange,'bid',bl,6,12,C.orange),
    quotes('askBlack',askBlack,'ask',bl,5,11,C.black),
    quotes('bidBlack',bidBlack,'bid',bl,5,11,C.black),
    quotes('askGreen',askGreen,'ask',bl,4,11,C.green),
    quotes('bidGreen',bidGreen,'bid',bl,4,11,C.green),
    quotes('askLime',askLime,'ask',bl,3.5,11,C.lime),
    quotes('bidLime',bidLime,'bid',bl,3.5,11,C.lime),
    quotes('askBlue',askBlue,'ask',ta,6,11,C.blue),
    quotes('bidBlue',bidBlue,'bid',ta,6,11,C.blue),
    quotes('askPurple',askPurple,'ask',ta,8,11,C.purple),
    quotes('bidPurple',bidPurple,'bid',ta,8,11,C.purple),
    quotes('askBrown',askBrown,'ask',bl,7,12,C.brown),
    quotes('bidBrown',bidBrown,'bid',bl,7,12,C.brown),
    Object.assign(bars('volBlack',volBlack,C.black),{markLine:vline}),
    bars('volRed',volRed,C.red),
    bars('volOrange',volOrange,C.orange),
    bars('volGreen',volGreen,C.green),
    bars('volLime',volLime,C.lime),
    bars('volPurple',volPurple,C.purple),
    bars('volBlue',volBlue,C.blue)
  ],
  graphic:(function(){
    const g=[];
    const txt=(s,x,y,al)=>g.push({type:'text',silent:true,z:20,style:{text:s,x,y,textAlign:al||'left',textVerticalAlign:'middle',font:'10px '+mono,fill:'#000'}});
    [291,423,555,688,820].forEach((x,i)=>g.push({type:'text',silent:true,z:1,style:{text:brand[i],x,y:44,textAlign:'center',textVerticalAlign:'middle',font:'italic 48px "Liberation Sans",sans-serif',fill:'#9999ff'}}));
    txt(tableTitle,113,536);
    txt('Exch',113,546);txt('Quotes',155,546);txt('Trades',215,546);txt('Shares',293,546);txt('Qt/Td',340,546);txt('Sh/Td',374,546);
    exchNames.forEach((n,i)=>{const y=556+i*10;
      txt(n,113,y);txt(exchQuotes[i],197,y,'right');txt(exchTrades[i],257,y,'right');txt(exchShares[i],334,y,'right');txt(exchQtTd[i],370,y,'right');txt(exchShTd[i],401,y,'right');});
    const mk=(type,i,size,fill)=>{const y=556+i*10,x=105,r=size/2;
      if(type==='c')g.push({type:'circle',silent:true,z:19,shape:{cx:x,cy:y,r},style:{fill}});
      if(type==='s')g.push({type:'rect',silent:true,z:19,shape:{x:x-r,y:y-r,width:size,height:size},style:{fill}});
      if(type==='d')g.push({type:'polygon',silent:true,z:19,shape:{points:[[x,y-r],[x+r,y],[x,y+r],[x-r,y]]},style:{fill}});};
    mk('c',1,9,C.black);mk('c',2,5,'#99cc22');mk('c',3,10,C.red);mk('c',4,7,C.orange);mk('c',5,10,C.green);mk('s',6,12,C.lime);mk('s',7,5,'#33ffcc');mk('d',8,13,C.purple);mk('d',9,7,'#ff33cc');mk('d',10,7,C.brown);mk('d',11,10,C.blue);
    txt('Quotes/Sec',1044,647);
    return g;
  })()
};
chart.setOption(option);
</script></body></html>
